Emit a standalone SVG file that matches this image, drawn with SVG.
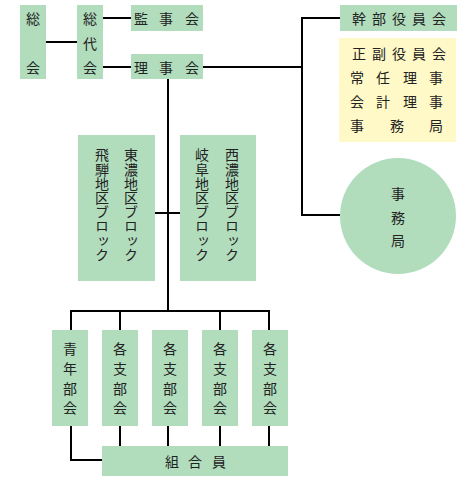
<svg xmlns="http://www.w3.org/2000/svg" width="466" height="483" viewBox="0 0 466 483">
<style>
.g{fill:#b1ddbd}
.y{fill:#fff9c8}
.t{font-family:"Noto Sans CJK JP","Noto Sans",sans-serif;font-size:14px;fill:#222;text-anchor:middle;dominant-baseline:central}
.v{font-family:"Noto Sans CJK JP","Noto Sans",sans-serif;font-size:14px;fill:#222;writing-mode:vertical-rl;letter-spacing:0.2px}
.c{fill:none;stroke:#000;stroke-width:2}
</style>
<rect width="466" height="483" fill="#fff"/>
<g id="connectors">
<path class="c" d="M46 42H77"/>
<path class="c" d="M103 18H131"/>
<path class="c" d="M103 67H131"/>
<path class="c" d="M203 67H302"/>
<path class="c" d="M340 18H302V215H340"/>
<path class="c" d="M168 79V311"/>
<path class="c" d="M155 213H180"/>
<path class="c" d="M71 330V311H269V330"/>
<path class="c" d="M120 311V330M220 311V330"/>
<path class="c" d="M71 426V460H102"/>
<path class="c" d="M120 426V446M168 426V446M220 426V446M269 426V446"/>
</g>
<g id="sokai">
<rect class="g" x="20" y="5" width="26" height="74"/>
<text class="t" x="33" y="18">総</text>
<text class="t" x="33" y="67">会</text>
</g>
<g id="sodaikai">
<rect class="g" x="77" y="5" width="26" height="74"/>
<text class="t" x="90" y="18">総</text>
<text class="t" x="90" y="43">代</text>
<text class="t" x="90" y="67">会</text>
</g>
<g id="kanjikai">
<rect class="g" x="131" y="5" width="72" height="26"/>
<text class="t" x="141" y="18">監</text>
<text class="t" x="166" y="18">事</text>
<text class="t" x="192" y="18">会</text>
</g>
<g id="rijikai">
<rect class="g" x="131" y="54" width="72" height="25"/>
<text class="t" x="141" y="67">理</text>
<text class="t" x="166" y="67">事</text>
<text class="t" x="192" y="67">会</text>
</g>
<g id="kanbu">
<rect class="g" x="340" y="5" width="117" height="26"/>
<text class="t" x="359" y="18">幹</text>
<text class="t" x="379" y="18">部</text>
<text class="t" x="399" y="18">役</text>
<text class="t" x="419" y="18">員</text>
<text class="t" x="439" y="18">会</text>
</g>
<g id="kanbu-members">
<rect class="y" x="339" y="38" width="117" height="104"/>
<text class="t" x="359" y="53">正</text>
<text class="t" x="379" y="53">副</text>
<text class="t" x="399" y="53">役</text>
<text class="t" x="419" y="53">員</text>
<text class="t" x="439" y="53">会</text>
<text class="t" x="357" y="77">常</text>
<text class="t" x="383" y="77">任</text>
<text class="t" x="410" y="77">理</text>
<text class="t" x="436" y="77">事</text>
<text class="t" x="357" y="101">会</text>
<text class="t" x="383" y="101">計</text>
<text class="t" x="410" y="101">理</text>
<text class="t" x="436" y="101">事</text>
<text class="t" x="357" y="125">事</text>
<text class="t" x="397" y="125">務</text>
<text class="t" x="436" y="125">局</text>
</g>
<g id="jimukyoku">
<circle class="g" cx="398" cy="216" r="58"/>
<text class="t" x="398" y="193">事</text>
<text class="t" x="398" y="217">務</text>
<text class="t" x="398" y="240">局</text>
</g>
<g id="block-east">
<rect class="g" x="78" y="135" width="77" height="146"/>
<text class="v" x="131" y="148">東濃地区ブロック</text>
<text class="v" x="102" y="148">飛騨地区ブロック</text>
</g>
<g id="block-west">
<rect class="g" x="180" y="135" width="76" height="146"/>
<text class="v" x="232" y="148">西濃地区ブロック</text>
<text class="v" x="202" y="148">岐阜地区ブロック</text>
</g>
<g id="seinen">
<rect class="g" x="52" y="330" width="36" height="96"/>
<text class="t" x="70" y="348">青</text>
<text class="t" x="70" y="368">年</text>
<text class="t" x="70" y="388">部</text>
<text class="t" x="70" y="407">会</text>
</g>
<g id="shibu1">
<rect class="g" x="102" y="330" width="36" height="96"/>
<text class="t" x="120" y="348">各</text>
<text class="t" x="120" y="368">支</text>
<text class="t" x="120" y="388">部</text>
<text class="t" x="120" y="407">会</text>
</g>
<g id="shibu2">
<rect class="g" x="152" y="330" width="36" height="96"/>
<text class="t" x="170" y="348">各</text>
<text class="t" x="170" y="368">支</text>
<text class="t" x="170" y="388">部</text>
<text class="t" x="170" y="407">会</text>
</g>
<g id="shibu3">
<rect class="g" x="202" y="330" width="36" height="96"/>
<text class="t" x="220" y="348">各</text>
<text class="t" x="220" y="368">支</text>
<text class="t" x="220" y="388">部</text>
<text class="t" x="220" y="407">会</text>
</g>
<g id="shibu4">
<rect class="g" x="252" y="330" width="36" height="96"/>
<text class="t" x="270" y="348">各</text>
<text class="t" x="270" y="368">支</text>
<text class="t" x="270" y="388">部</text>
<text class="t" x="270" y="407">会</text>
</g>
<g id="kumiaiin">
<rect class="g" x="102" y="446" width="186" height="30"/>
<text class="t" x="172" y="461">組</text>
<text class="t" x="195" y="461">合</text>
<text class="t" x="219" y="461">員</text>
</g>
</svg>
